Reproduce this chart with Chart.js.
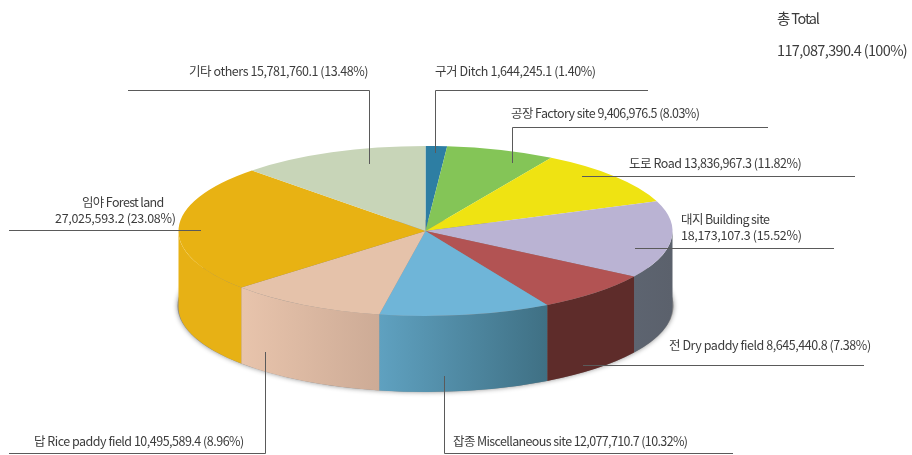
<!DOCTYPE html>
<html>
<head>
<meta charset="utf-8">
<style>
html, body { margin: 0; padding: 0; background: #fff; }
#wrap { width: 912px; height: 455px; }
</style>
<script src="https://cdn.jsdelivr.net/npm/chart.js@4"></script>
</head>
<body>
<div id="wrap"><canvas id="pieChart" width="912" height="455"></canvas></div>
<script>
const categories = ['구거 Ditch', '공장 Factory site', '도로 Road', '대지 Building site', '전 Dry paddy field', '잡종 Miscellaneous site', '답 Rice paddy field', '임야 Forest land', '기타 others'];
// printed numbers
const values = [1644245.1, 9406976.5, 13836967.3, 18173107.3, 8645440.8, 12077710.7, 10495589.4, 27025593.2, 15781760.1];
const percents = ['1.40', '8.03', '11.82', '15.52', '7.38', '10.32', '8.96', '23.08', '13.48'];
// slice sizes, the source artwork does not draw them quite to the printed numbers
const drawnShares = [1.4, 7.1, 10.8, 14.7, 7.8, 11.2, 10.4, 24.2, 12.4];
const totalLabel = '총 Total';
const totalValue = '117,087,390.4 (100%)';

const topColors = ['#2d7ea3', '#84c557', '#efe312', '#bab3d3', '#b25353', '#6fb5d8', '#e5c2aa', '#e8b213', '#c8d5b8'];
const sideColors = [
    ['#1f5f7c', '#1f5f7c'], ['#5f9440', '#5f9440'], ['#b5ab10', '#b5ab10'], ['#5d6470', '#5b616c'], ['#5e2c2a', '#5e2c2a'],
    ['#5fa1c0', '#3f7084'], ['#e8c4ac', '#cdab96'], ['#e7b115', '#e7b115'], ['#98a58a', '#98a58a']
];

// where the pie sits on the page
const pie = { x: 425.5, y: 231, rx: 247, ry: 85, depth: 76 };
const fontFamily = '"Noto Sans CJK KR", "Noto Sans", sans-serif';

// text position per slice (x2/y2 when the number goes on a second line), letter spacing, leader polyline
const labelLayout = [
    { x: 435, y: 71, sp: -0.41, leader: [[648, 90.5], [435.5, 90.5], [435.5, 153]] },
    { x: 511, y: 113, sp: -0.58, leader: [[768, 127.5], [512.5, 127.5], [512.5, 163]] },
    { x: 629, y: 163, sp: -0.45, leader: [[855, 176.5], [582, 176.5]] },
    { x: 681, y: 219, x2: 681, y2: 235, sp: -0.6, sp2: -0.3, leader: [[834, 248.5], [635, 248.5]] },
    { x: 669, y: 345, sp: -0.45, leader: [[864, 365.5], [583, 365.5]] },
    { x: 453, y: 441, sp: -0.62, leader: [[444.5, 376], [444.5, 453.5], [733, 453.5]] },
    { x: 34, y: 441, sp: -0.5, leader: [[265.5, 352], [265.5, 453.5], [9, 453.5]] },
    { x: 82, y: 202, x2: 55, y2: 218, sp: -0.65, sp2: -0.3, leader: [[9, 230.5], [201, 230.5]] },
    { x: 189, y: 71, sp: -0.44, leader: [[128, 90.5], [369.5, 90.5], [369.5, 164]] }
];

function fmt(v) {
    return v.toLocaleString('en-US', { minimumFractionDigits: 1, maximumFractionDigits: 1 });
}

function sidePath(ctx, a1, a2) {
    ctx.beginPath();
    ctx.ellipse(pie.x, pie.y, pie.rx, pie.ry, 0, a1, a2);
    ctx.ellipse(pie.x, pie.y + pie.depth, pie.rx, pie.ry, 0, a2, a1, true);
    ctx.closePath();
}

// extrusion under the arcs, then squash the arcs into the ellipse
const pie3d = {
    id: 'pie3d',
    beforeDatasetsDraw(chart) {
        const ctx = chart.ctx;
        const arcs = chart.getDatasetMeta(0).data;
        const c = arcs[0];

        ctx.save();
        ctx.shadowColor = 'rgba(0,0,0,0.45)';
        ctx.shadowBlur = 5;
        ctx.fillStyle = '#888';
        ctx.beginPath();
        ctx.ellipse(pie.x, pie.y + pie.depth - 1, pie.rx + 1, pie.ry + 1, 0, 0, Math.PI * 2);
        ctx.fill();
        ctx.restore();

        arcs.forEach((arc, i) => {
            // only the front half of the rim shows
            const a1 = Math.max(arc.startAngle, 0);
            const a2 = Math.min(arc.endAngle, Math.PI);
            if (a2 <= a1) return;
            const x1 = pie.x + pie.rx * Math.cos(a1);
            const x2 = pie.x + pie.rx * Math.cos(a2);
            const g = ctx.createLinearGradient(x2, 0, x1, 0);
            g.addColorStop(0, sideColors[i][0]);
            g.addColorStop(1, sideColors[i][1]);
            ctx.fillStyle = g;
            sidePath(ctx, a1, a2);
            ctx.fill();
        });

        ctx.save();
        ctx.translate(pie.x, pie.y);
        ctx.scale(pie.rx / c.outerRadius, pie.ry / c.outerRadius);
        ctx.translate(-c.x, -c.y);
    },
    afterDatasetsDraw(chart) {
        chart.ctx.restore();
    },
    afterDraw(chart) {
        const ctx = chart.ctx;
        ctx.save();
        ctx.strokeStyle = '#5a5a5a';
        ctx.lineWidth = 1;
        labelLayout.forEach(l => {
            ctx.beginPath();
            l.leader.forEach((p, i) => i ? ctx.lineTo(p[0], p[1]) : ctx.moveTo(p[0], p[1]));
            ctx.stroke();
        });

        ctx.fillStyle = '#3c3c3c';
        ctx.textBaseline = 'middle';
        ctx.textAlign = 'left';
        ctx.font = '12.5px ' + fontFamily;
        categories.forEach((name, i) => {
            const l = labelLayout[i];
            const nums = fmt(values[i]) + ' (' + percents[i] + '%)';
            ctx.letterSpacing = l.sp + 'px';
            if (l.x2 !== undefined) {
                ctx.fillText(name, l.x, l.y);
                ctx.letterSpacing = l.sp2 + 'px';
                ctx.fillText(nums, l.x2, l.y2);
            } else {
                ctx.fillText(name + ' ' + nums, l.x, l.y);
            }
        });

        ctx.font = '14.5px ' + fontFamily;
        ctx.letterSpacing = '-1.2px';
        ctx.fillText(totalLabel, 777, 18);
        ctx.letterSpacing = '-0.65px';
        ctx.fillText(totalValue, 777, 50);
        ctx.restore();
    }
};

new Chart(document.getElementById('pieChart'), {
    type: 'pie',
    data: {
        labels: categories,
        datasets: [{ data: drawnShares, backgroundColor: topColors, borderWidth: 0 }]
    },
    options: {
        responsive: false,
        animation: false,
        plugins: { legend: { display: false }, tooltip: { enabled: false } }
    },
    plugins: [pie3d]
});
</script>
</body>
</html>
